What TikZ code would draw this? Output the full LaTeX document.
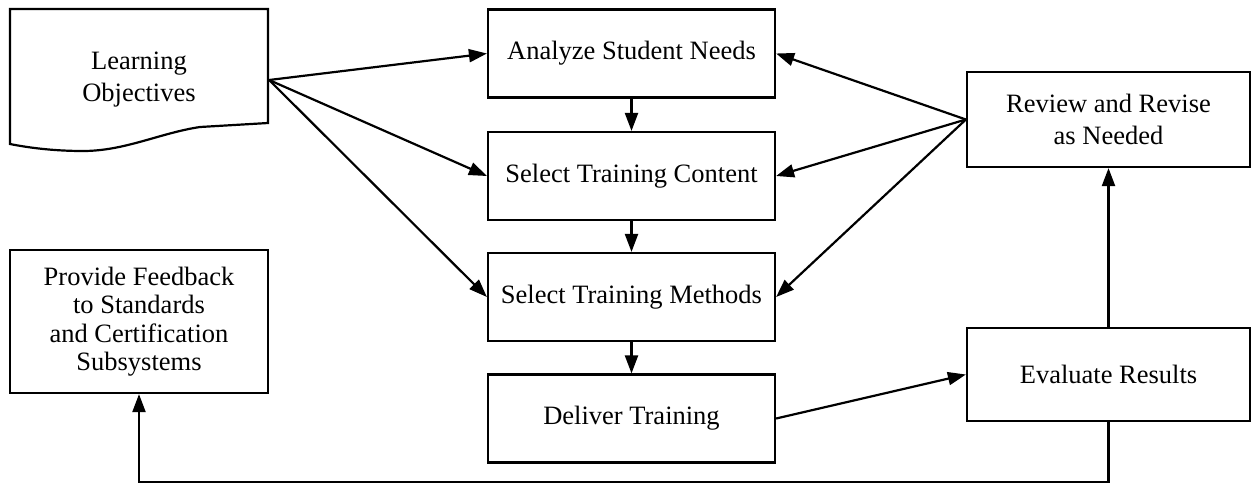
\documentclass[tikz,border=0pt]{standalone}
\usepackage{fontspec}
\setmainfont{Liberation Serif}
\usetikzlibrary{arrows.meta}
\tikzset{
  stage/.style={draw, line width=2.2pt, minimum width=287pt, minimum height=88pt,
    inner sep=0pt, align=center, font=\fontsize{26.5}{32}\selectfont},
  flow/.style={line width=2.2pt, -{Triangle[length=18pt,width=13pt]}}
}
\begin{document}
\begin{tikzpicture}[x=1pt,y=-1pt]
	\useasboundingbox (0,0) rectangle (1252,483);
	% middle column
	\node[stage] (analyze) at (631.5,53.5) {Analyze Student Needs};
	\node[stage] (content) at (631.5,176) {Select Training Content};
	\node[stage] (methods) at (631.5,297) {Select Training Methods};
	\node[stage] (deliver) at (631.5,418.5) {Deliver Training};
	% right column
	\node[stage, minimum width=283pt, minimum height=95pt] (review) at (1108.5,119.5) {Review and Revise\\as Needed};
	\node[stage, minimum width=283pt, minimum height=93pt] (evaluate) at (1108.5,374.5) {Evaluate Results};
	% left column
	\node[stage, minimum width=258pt, minimum height=143pt, font=\fontsize{26.5}{28.5}\selectfont] (feedback) at (139,321.5) {Provide Feedback\\to Standards\\and Certification\\Subsystems};
	\node[stage, draw=none, minimum width=258pt, minimum height=142pt] (objectives) at (139,80) {Learning\\Objectives};
	\draw[line width=2.2pt] (10,9) -- (268,9) -- (268,123) -- (200,127)
		.. controls (160,133) and (125,151) .. (83,151)
		.. controls (55,151) and (30,148) .. (10,144) -- cycle;
	% connectors
	\draw[flow] (objectives.east) -- (analyze.west);
	\draw[flow] (objectives.east) -- (content.west);
	\draw[flow] (objectives.east) -- (methods.west);
	\draw[flow] (analyze) -- (content);
	\draw[flow] (content) -- (methods);
	\draw[flow] (methods) -- (deliver);
	\draw[flow] (review.west) -- (analyze.east);
	\draw[flow] (review.west) -- (content.east);
	\draw[flow] (review.west) -- (methods.east);
	\draw[flow] (deliver.east) -- (evaluate.west);
	\draw[flow] (evaluate) -- (review);
	\draw[flow] (evaluate.south) -- ++(0,60) -| (feedback.south);
\end{tikzpicture}
\end{document}
